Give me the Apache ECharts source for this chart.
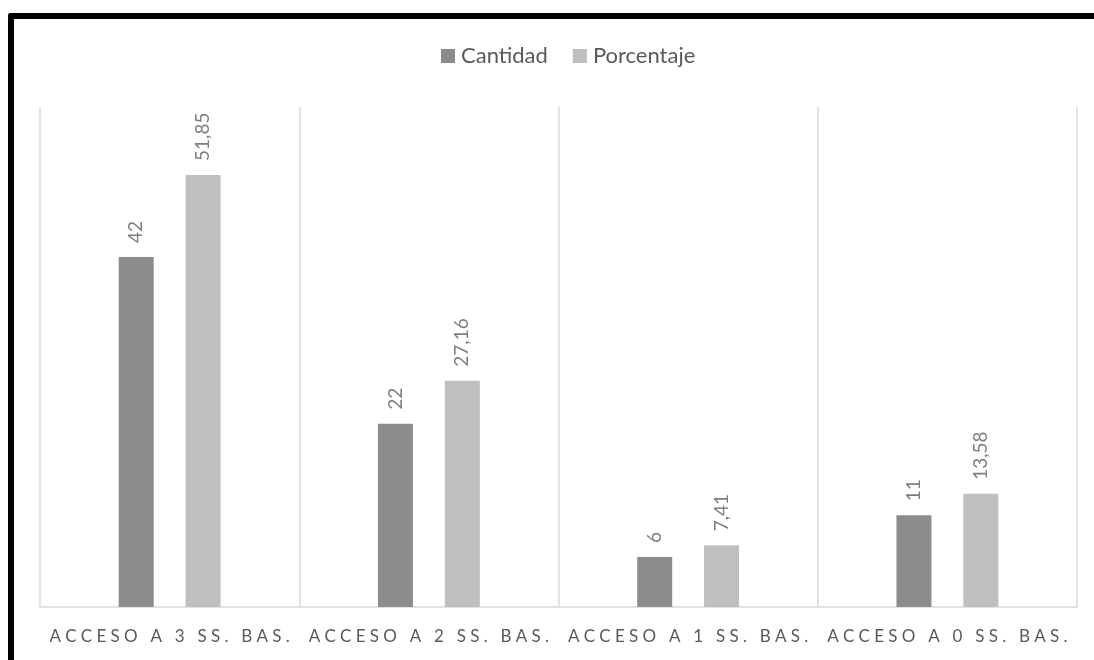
<!DOCTYPE html>
<html>
<head>
<meta charset="utf-8">
<script src="https://cdn.jsdelivr.net/npm/echarts@6/dist/echarts.min.js"></script>
<style>
  html, body { margin: 0; padding: 0; background: #fff; }
  #wrap { position: relative; width: 1094px; height: 660px; overflow: hidden; }
  #frame {
    position: absolute; left: 8px; top: 13px; width: 1200px; height: 800px;
    border-left: 6px solid #000; border-top: 6px solid #000;
    border-top-left-radius: 3px; box-sizing: border-box; pointer-events: none;
  }
  #chart { position: absolute; left: 0; top: 0; width: 1094px; height: 660px; }
</style>
</head>
<body>
<div id="wrap">
  <div id="chart"></div>
  <div id="frame"></div>
</div>
<script>
// Access to basic services: count and share of households
const categories = ['ACCESO A 3 SS. BAS.', 'ACCESO A 2 SS. BAS.', 'ACCESO A 1 SS. BAS.', 'ACCESO A 0 SS. BAS.'];
const cantidad = [42, 22, 6, 11];
const porcentaje = [51.85, 27.16, 7.41, 13.58];
const seriesNames = ['Cantidad', 'Porcentaje'];

const FONT = 'Lato, "Open Sans", sans-serif';
const spaced = s => s.split('').join('\u2009\u2009');
const comma = v => String(v).replace('.', ',');

const barLabel = {
  show: true, position: 'top', rotate: 90, align: 'left', verticalAlign: 'middle',
  distance: 14, color: '#7f7f7f', fontSize: 19, fontFamily: FONT,
  formatter: p => comma(p.value)
};

const chart = echarts.init(document.getElementById('chart'), null, { renderer: 'canvas' });
chart.setOption({
  animation: false,
  backgroundColor: '#ffffff',
  legend: {
    top: 40,
    left: 436,
    itemWidth: 14,
    itemHeight: 14,
    itemGap: 25,
    icon: 'rect',
    textStyle: { color: '#595959', fontSize: 22, fontFamily: FONT, padding: [0, 0, 0, 1] },
    data: seriesNames
  },
  grid: { left: 40, right: 17, top: 107, bottom: 53 },
  xAxis: {
    type: 'category',
    data: categories,
    axisLine: { lineStyle: { color: '#d9d9d9', width: 1.5 } },
    axisTick: { show: false },
    splitLine: { show: true, interval: 0, lineStyle: { color: '#d9d9d9', width: 1.5 } },
    axisLabel: {
      interval: 0, hideOverlap: false,
      color: '#595959', fontSize: 17, fontFamily: FONT, margin: 21,
      formatter: v => spaced(v)
    }
  },
  yAxis: {
    type: 'value', min: 0, max: 60, show: false,
    splitLine: { show: false }
  },
  series: [
    {
      name: seriesNames[0], type: 'bar', data: cantidad,
      barWidth: 35, barGap: '91%',
      itemStyle: { color: '#8c8c8c' },
      label: barLabel
    },
    {
      name: seriesNames[1], type: 'bar', data: porcentaje,
      barWidth: 35,
      itemStyle: { color: '#bfbfbf' },
      label: barLabel
    }
  ]
});
</script>
</body>
</html>
